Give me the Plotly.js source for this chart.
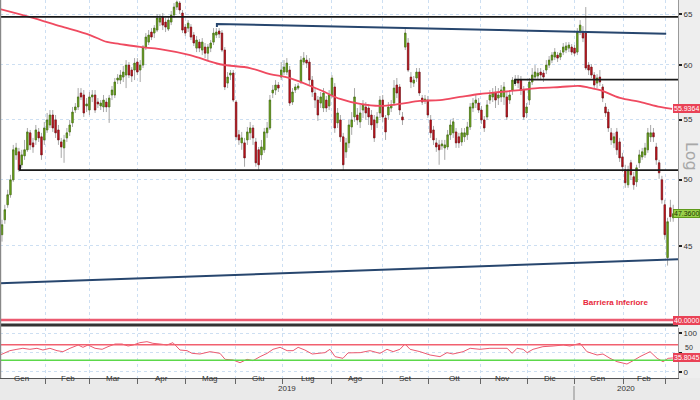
<!DOCTYPE html>
<html><head><meta charset="utf-8">
<script src="https://cdn.plot.ly/plotly-3.0.1.min.js"></script>
<style>html,body{margin:0;padding:0;background:#fff;}#chart{width:700px;height:400px;}</style>
</head><body><div id="chart"></div>
<script>
// ---- price data (daily candles, index = trading day) ----
const open = [45.81,46.91,48.04,48.81,49.98,52.00,52.25,51.19,51.92,52.42,53.85,53.00,53.25,53.93,53.51,53.25,54.10,54.53,55.40,54.97,54.10,53.08,52.58,53.42,53.93,54.71,55.84,56.11,57.37,57.19,56.20,55.84,57.01,57.19,56.55,56.20,56.11,56.55,56.11,57.19,57.19,58.56,58.56,58.84,59.03,59.97,59.50,59.50,60.26,59.50,59.97,61.71,62.20,63.20,63.10,63.40,64.21,64.72,64.21,63.50,
64.21,64.93,65.76,66.18,65.14,63.70,63.60,63.70,62.90,61.61,62.20,61.42,61.71,61.12,61.61,62.20,62.90,63.30,63.10,61.42,58.28,59.03,59.22,56.55,53.68,53.00,53.00,53.25,53.85,54.27,53.08,52.42,52.00,52.42,53.85,54.27,57.37,57.64,58.10,58.84,59.31,59.31,59.50,56.55,57.64,57.82,58.38,60.26,60.45,60.26,58.56,57.37,56.73,56.46,56.02,56.73,56.20,57.19,57.92,54.71,54.97,53.51,52.25,53.00,54.36,55.23,55.40,54.80,55.84,56.11,56.02,55.40,54.97,54.71,55.58,56.73,55.14,55.40,56.02,56.46,58.10,57.92,55.23,
61.71,62.11,58.84,58.28,58.75,59.31,56.91,56.64,56.73,54.97,54.10,53.00,52.83,52.75,52.58,52.66,53.68,53.85,53.93,53.51,53.08,53.51,53.68,54.36,56.02,56.46,56.46,55.84,54.97,55.23,56.73,57.01,57.37,56.91,57.01,57.01,57.01,56.73,57.64,58.28,58.56,58.56,57.64,55.58,56.73,58.38,58.84,58.94,59.31,59.22,59.50,59.97,60.45,60.74,60.93,60.74,61.22,61.42,61.61,61.71,61.61,61.22,63.20,63.20,63.10,59.97,59.78,59.03,58.28,58.84,57.92,56.11,55.66,53.85,53.00,53.93,53.08,51.83,50.78,49.59,51.35,50.22,49.82,51.35,51.83,52.00,52.42,53.51,53.85,52.66,51.35,49.98,48.04,44.18,47.81,47.06];
const high = [46.91,48.04,49.20,50.38,52.83,53.00,52.58,52.42,53.25,54.27,54.10,53.42,54.53,54.27,53.85,54.79,55.58,55.84,55.84,55.40,54.53,53.42,53.68,54.27,54.97,56.11,56.46,57.82,57.82,57.64,56.91,57.46,57.64,57.64,56.91,56.73,57.19,56.91,57.19,58.01,58.75,59.12,59.50,59.88,60.45,60.26,59.78,60.64,60.64,60.45,61.91,63.10,63.40,63.60,63.90,65.03,65.03,65.14,64.62,64.83,
65.35,66.18,66.45,66.39,65.45,64.00,64.41,64.00,63.20,62.80,62.50,62.60,62.11,62.01,62.40,63.60,63.60,63.60,63.40,61.71,59.31,59.50,59.50,56.73,54.10,53.93,53.42,54.36,54.79,54.53,53.42,52.66,53.25,54.27,54.79,57.19,58.10,58.56,58.38,60.26,60.45,60.64,59.88,57.82,58.19,58.28,60.84,61.22,60.93,60.64,58.94,57.82,57.10,57.46,57.82,57.10,57.64,59.03,58.28,56.02,55.40,53.85,53.42,54.97,55.66,57.82,56.02,56.29,56.73,56.55,56.38,55.84,55.40,55.66,57.10,57.19,55.40,56.55,56.73,58.56,58.75,58.19,55.66,
63.60,62.60,59.31,58.94,59.69,59.69,57.19,57.19,57.10,55.40,54.45,53.42,53.25,53.25,53.25,54.10,54.97,55.14,54.27,53.85,54.27,54.27,54.80,56.46,56.91,57.19,56.91,56.20,55.31,56.73,57.64,57.82,58.01,57.82,58.10,58.38,57.46,57.64,58.84,59.03,59.03,58.94,58.01,56.46,58.75,59.69,59.97,59.69,59.69,59.50,60.45,60.84,61.22,61.61,61.22,61.42,62.11,62.20,62.20,62.01,61.91,63.60,64.41,63.80,65.76,60.26,60.07,59.31,59.12,59.50,58.19,56.46,55.93,54.27,53.85,54.27,53.42,52.17,51.19,51.11,51.59,50.62,51.19,52.42,52.58,53.00,54.27,54.53,54.27,53.00,51.59,50.30,48.42,47.06,48.42,48.04];
const low = [45.31,46.61,47.81,48.58,49.82,51.59,50.62,50.94,51.59,52.25,52.42,52.17,52.83,53.08,51.59,52.83,53.85,54.27,53.93,53.42,52.83,51.75,51.35,53.08,53.59,54.36,55.58,55.84,56.73,55.23,55.66,55.40,56.55,55.58,56.02,55.84,55.66,55.66,54.71,56.73,56.91,58.19,58.19,58.38,57.82,58.75,58.38,58.56,59.03,58.38,59.69,61.42,61.91,62.40,62.60,63.20,63.80,63.40,63.20,63.30,
63.90,64.62,65.45,65.03,63.10,62.80,63.20,62.40,61.81,61.22,61.22,60.93,60.64,60.45,61.22,61.91,62.60,62.60,61.22,57.64,57.82,58.56,56.55,53.25,52.83,52.42,51.03,52.83,53.25,52.83,51.03,50.78,51.59,52.17,53.42,54.10,56.91,57.19,57.46,58.56,59.03,59.03,56.20,56.29,57.37,57.64,58.19,59.97,59.69,58.10,57.01,56.02,54.88,56.02,55.66,55.66,55.84,56.91,53.85,54.27,53.08,50.70,51.75,52.58,53.68,54.80,54.53,54.27,55.14,54.97,54.53,54.10,53.08,54.27,55.14,54.80,53.25,54.97,55.66,56.20,56.91,55.40,54.53,
61.42,59.31,57.82,57.92,58.38,57.10,56.29,56.38,55.14,53.42,52.83,52.25,51.19,52.42,51.59,52.42,53.25,53.42,52.58,52.58,52.75,53.08,53.25,54.10,55.66,56.02,55.58,54.62,53.93,54.97,56.38,56.55,56.02,56.29,56.55,56.29,54.97,56.38,57.19,58.01,57.82,57.19,54.97,55.14,56.29,58.10,58.56,58.56,58.56,58.38,59.12,59.69,60.16,60.45,60.26,60.45,60.93,61.12,61.22,60.93,60.84,60.93,62.90,62.20,59.50,59.03,58.75,57.82,57.82,58.01,56.55,55.23,53.93,52.83,52.58,52.00,51.42,50.62,49.35,49.35,49.98,49.20,49.43,50.94,51.59,51.75,52.17,53.08,53.08,51.19,50.06,48.12,45.45,43.62,46.76,46.76];
const close = [46.54,47.66,48.81,49.98,52.42,52.58,50.78,52.00,52.42,53.93,52.83,52.66,54.10,53.42,52.00,54.27,54.97,55.40,54.27,53.85,53.25,52.66,53.25,53.85,54.53,55.66,56.11,57.01,57.01,55.58,56.38,57.01,57.19,55.84,56.38,56.46,56.73,56.11,56.91,57.64,58.38,58.75,59.03,59.31,59.97,59.03,58.94,60.16,59.31,59.97,61.71,62.70,62.90,62.70,63.60,64.62,64.62,63.90,63.70,64.41,
64.93,65.76,66.29,65.45,63.40,63.10,64.10,62.70,62.11,62.40,61.61,62.20,61.12,61.71,62.11,63.10,63.20,63.00,61.42,57.92,58.84,59.22,56.73,53.51,53.25,53.42,51.75,53.93,54.27,53.42,51.35,51.19,52.66,53.93,54.27,56.73,57.64,58.10,57.82,59.50,59.78,60.16,56.46,57.46,57.92,58.01,60.45,60.64,60.16,58.56,57.46,56.73,55.40,57.01,57.37,56.02,57.19,58.75,54.27,55.58,53.51,51.19,53.00,54.53,54.97,57.01,54.97,55.58,56.29,55.58,55.23,54.53,53.42,55.23,56.73,55.23,53.93,56.11,56.29,57.82,57.37,55.84,54.97,
63.10,59.50,58.38,58.56,59.31,57.37,56.55,56.82,55.40,53.85,53.25,52.66,52.42,52.91,52.83,53.68,54.53,54.80,53.00,53.00,53.85,53.85,54.36,56.11,56.46,56.73,55.84,54.97,54.27,56.29,57.19,57.37,56.73,57.19,57.64,57.92,55.23,57.19,58.56,58.56,58.28,57.64,55.23,56.11,58.38,59.03,59.31,59.22,59.03,58.84,59.97,60.45,60.93,61.22,60.64,61.12,61.71,61.81,61.91,61.22,61.12,63.20,63.90,62.60,59.69,59.50,59.03,58.10,58.75,58.38,56.91,55.58,54.27,53.25,53.51,52.42,51.75,51.03,49.75,50.78,50.38,49.59,50.94,52.00,52.25,52.58,53.85,53.85,53.51,51.59,50.54,48.42,45.81,46.76,47.14,47.36];

// ---- 200-day moving average (read at sample days) ----
const maDay = [-0.7,10.0,20.6,31.2,37.2,41.8,48.9,56.0,66.7,77.3,87.9,95.0,102.1,112.8,119.9,127.0,134.0,141.1,148.2,155.3,162.4,169.5,176.6,183.7,190.8,197.9,205.0,208.5,212.1,219.1,226.2,233.3,237.6];
const maVal = [65.55,64.72,63.80,62.90,62.21,62.01,61.72,61.52,60.93,60.05,59.69,59.12,58.75,57.64,56.83,56.38,56.20,56.38,56.65,56.73,57.01,57.28,57.46,57.64,57.83,57.92,58.01,57.83,57.64,56.92,56.56,56.11,55.94];

// ---- RSI (read at sample days) ----
const rsiDay = [-0.7,1.1,2.8,5.3,7.4,9.9,12.4,14.5,17.0,19.5,21.6,24.1,27.0,28.7,30.5,33.0,35.5,37.6,40.1,42.6,44.7,46.5,48.9,51.4,53.5,56.0,58.5,60.6,63.1,65.6,67.4,70.2,73.8,77.3,79.1,81.9,84.4,86.9,89.0,91.5,94.0,96.1,98.6,101.1,103.2,105.0,107.4,110.0,112.1,114.5,116.3,118.1,120.9,122.7,127.0,130.5,134.0,136.5,138.7,141.1,142.9,144.7,148.2,151.8,155.3,157.8,159.9,163.5,166.0,169.5,173.0,176.6,179.1,180.9,182.6,184.8,186.2,188.3,191.8,195.4,199.0,201.4,205.0,207.4,211.0,213.1,215.6,218.1,221.6,223.8,226.2,229.8,232.3,234.4,236.2,237.9];
const rsiVal = [43.5,49.6,54.8,58.3,60.9,58.3,60.9,56.5,60.9,54.8,52.2,60.9,69.5,63.5,69.5,60.9,58.3,65.2,72.1,72.1,66.9,69.5,75.6,78.2,73.9,72.1,69.5,75.6,56.5,54.8,47.8,46.1,52.2,47.8,32.2,30.5,23.5,32.2,28.7,39.2,47.8,58.3,63.5,54.8,54.8,63.5,56.5,46.1,47.8,49.6,58.3,39.2,34.8,49.0,49.6,54.8,47.8,58.3,52.2,58.3,72.1,58.3,52.2,43.5,39.2,49.6,46.1,52.2,60.9,58.3,60.9,60.9,60.9,47.8,60.9,58.3,49.6,58.3,65.2,66.9,69.5,66.9,73.9,52.2,43.5,46.1,34.8,26.1,20.0,28.7,39.2,52.2,34.8,26.1,34.8,35.8];

// ---- levels and trendlines ----
const topLevel = 64.75, midLevel = 58.6, supportLevel = 50.75, barrier = 40;
const upperTrendDay = [76.2, 76.2, 235.5], upperTrendVal = [63.70, 64.02, 63.03];
const lowerTrendDay = [-0.7, 239.7], lowerTrendVal = [42.41, 44.06];
const rsiHigh = 70, rsiLow = 30;
const lastPrice = 47.36, lastMA = 55.9364, lastRSI = 35.8045;

// ---- axis labels ----
const monthBounds = [15.25,30.85,47.87,64.89,82.62,99.29,117.0,134.75,151.06,169.5,186.2,202.84,220.2,235.1];
const monthNames = ['Gen','Feb','Mar','Apr','Mag','Giu','Lug','Ago','Set','Ott','Nov','Dic','Gen','Feb'];
const monthMid = [7.0,23.4,39.4,56.4,73.8,90.8,108.2,125.5,142.9,160.3,177.3,194.3,211.3,227.7];
const years = ['2019','2020'], yearMid = [101.1,221.3];
const rsiTicks = [0, 50, 100];

const days = close.map((_, i) => i);
const xr = [-0.71, 239.7];
const bodyHi = open.map((o, i) => Math.max(o, close[i]));
const bodyLo = open.map((o, i) => Math.min(o, close[i]));

const W = 700, H = 400, PW = 678;           // figure size and plot-area width
const px = v => v / PW;                      // pixel -> paper x (paper is relative to plot area)
const py = v => 1 - v / H;                   // pixel -> paper y

const FONT = 'Liberation Sans, Arial, sans-serif';
function hline(v, color, width, yaxis) {
  return {type:'scatter', mode:'lines', x:[xr[0], xr[1]], y:[v, v],
    yaxis: yaxis || 'y', line:{color:color, width:width}, hoverinfo:'skip'};
}

const traces = [
  {type:'scatter', mode:'lines', x:maDay, y:maVal, line:{color:'#ef4a60', width:1.8, shape:'spline'}, hoverinfo:'skip'},
  hline(topLevel, '#1a1a1a', 1.8),
  {type:'scatter', mode:'lines', x:[181.9,181.9,xr[1]], y:[58.2, midLevel, midLevel], line:{color:'#1a1a1a', width:1.8}, hoverinfo:'skip'},
  {type:'scatter', mode:'lines', x:[6.4,6.4,xr[1]], y:[51.2, supportLevel, supportLevel], line:{color:'#1a1a1a', width:1.8}, hoverinfo:'skip'},
  {type:'scatter', mode:'lines', x:upperTrendDay, y:upperTrendVal, line:{color:'#27466e', width:2}, hoverinfo:'skip'},
  {type:'scatter', mode:'lines', x:lowerTrendDay, y:lowerTrendVal, line:{color:'#27466e', width:2}, hoverinfo:'skip'},
  hline(barrier, '#ec5a70', 2.5),
  {type:'candlestick', x:days, open:open, high:high, low:low, close:close,
    increasing:{line:{color:'#a8a8a8', width:1}, fillcolor:'#74b01c'},
    decreasing:{line:{color:'#a8a8a8', width:1}, fillcolor:'#c8141e'}, whiskerwidth:0, hoverinfo:'skip'},
  {type:'candlestick', x:days, open:open, high:bodyHi, low:bodyLo, close:close,
    increasing:{line:{color:'#3f6d0c', width:0.6}, fillcolor:'#74b01c'},
    decreasing:{line:{color:'#7a0a10', width:0.6}, fillcolor:'#d0161f'}, whiskerwidth:0, hoverinfo:'skip'},
  {type:'scatter', mode:'lines', x:rsiDay, y:rsiVal, yaxis:'y2', line:{color:'#ec5a70', width:1}, hoverinfo:'skip'},
  hline(rsiHigh, '#f2606f', 1.6, 'y2'),
  hline(rsiLow, '#5cd84a', 1.6, 'y2')
];

const annotations = [];
monthNames.forEach((m, i) => annotations.push({xref:'x', yref:'paper', x:monthMid[i], y:py(385), text:m, showarrow:false,
  xanchor:'center', font:{family:FONT, size:8, color:'#333'}}));
years.forEach((y, i) => annotations.push({xref:'x', yref:'paper', x:yearMid[i], y:py(395), text:y, showarrow:false,
  xanchor:'center', font:{family:FONT, size:8, color:'#333'}}));
function valLabel(v, yref, text, bg, fg, border) {
  return {xref:'paper', yref:yref, x:px(700), y:(yref==='y'?Math.log10(v):v), xanchor:'right', yanchor:'middle', text:text,
    showarrow:false, bgcolor:bg, bordercolor:border||bg, borderwidth:1, borderpad:0, font:{family:FONT, size:7, color:fg}};
}
annotations.push(valLabel(lastMA, 'y', lastMA.toFixed(4), '#e94256', '#ffffff'));
annotations.push(valLabel(lastPrice, 'y', lastPrice.toFixed(4), '#9ad04a', '#1b3300', '#5f9a1a'));
annotations.push(valLabel(barrier, 'y', barrier.toFixed(4), '#e94256', '#ffffff'));
annotations.push(valLabel(lastRSI, 'y2', lastRSI.toFixed(4), '#e94256', '#ffffff'));
// middle RSI tick label sits just above the value box (as in the reference, where the box hides most of it)
annotations.push({xref:'paper', yref:'paper', x:px(683), y:py(347), text:String(rsiTicks[1]), xanchor:'left', yanchor:'middle',
  showarrow:false, font:{family:FONT, size:7, color:'#333'}});
annotations.push({xref:'paper', yref:'paper', x:px(692), y:py(156), text:'Log', textangle:90, showarrow:false,
  xanchor:'center', yanchor:'middle', font:{family:'DejaVu Sans, sans-serif', size:16, color:'#a8a8a8'}});
annotations.push({xref:'paper', yref:'paper', x:px(615), y:py(302), text:'<b>Barriera Inferiore</b>', showarrow:false,
  xanchor:'center', yanchor:'middle', font:{family:FONT, size:8, color:'#e8283c'}});

const shapes = [
  {type:'rect', xref:'paper', yref:'paper', x0:px(678), x1:px(700), y0:py(378), y1:1, fillcolor:'#eeeeee', line:{width:0}, layer:'below'},
  {type:'rect', xref:'paper', yref:'paper', x0:0, x1:px(700), y0:0, y1:py(378), fillcolor:'#eaeaea', line:{width:0}, layer:'below'},
  {type:'line', xref:'paper', yref:'paper', x0:0, x1:px(678), y0:py(325), y1:py(325), line:{color:'#333', width:3}},
  {type:'line', xref:'paper', yref:'paper', x0:px(0.6), x1:px(0.6), y0:py(378), y1:1, line:{color:'#888', width:1.2}},
  {type:'line', xref:'paper', yref:'paper', x0:px(574), x1:px(574), y0:0, y1:py(386), line:{color:'#888', width:1}},
  {type:'line', xref:'paper', yref:'paper', x0:px(674), x1:px(679), y0:py(214), y1:py(214), line:{color:'#f0a030', width:1}}
];

const gridStyle = {gridcolor:'#cddff2', griddash:'dot', gridwidth:1};
const layout = {
  width:W, height:H, margin:{l:0, r:W-PW, t:0, b:0},
  paper_bgcolor:'#ffffff', plot_bgcolor:'#ffffff', showlegend:false, dragmode:false,
  xaxis:Object.assign({range:xr, anchor:'y2', tickmode:'array', tickvals:monthBounds, showticklabels:false,
    ticks:'outside', ticklen:5, tickcolor:'#666', showgrid:true, showline:true, linecolor:'#555', linewidth:1.2,
    zeroline:false, rangeslider:{visible:false}}, gridStyle),
  yaxis:Object.assign({domain:[py(322), 1], type:'log', range:[Math.log10(39.88), Math.log10(66.5)], side:'right',
    tickmode:'array', tickvals:[45,50,55,60,65], ticktext:['45','50','55','60','65'], ticks:'outside', ticklen:3, tickwidth:2,
    tickcolor:'#222', tickfont:{family:FONT, size:8, color:'#333'}, showgrid:true, showline:true, linecolor:'#999', zeroline:false}, gridStyle),
  yaxis2:Object.assign({domain:[py(378), py(328)], range:[-16.4, 113.8], side:'right', tickmode:'array', tickvals:rsiTicks,
    ticktext:[String(rsiTicks[0]), '', String(rsiTicks[2])],
    ticks:'outside', ticklen:3, tickwidth:2, tickcolor:'#222', tickfont:{family:FONT, size:8, color:'#333'},
    showgrid:true, showline:true, linecolor:'#999', zeroline:false}, gridStyle),
  annotations:annotations, shapes:shapes
};
Plotly.newPlot('chart', traces, layout, {staticPlot:true, displayModeBar:false});
</script></body></html>
